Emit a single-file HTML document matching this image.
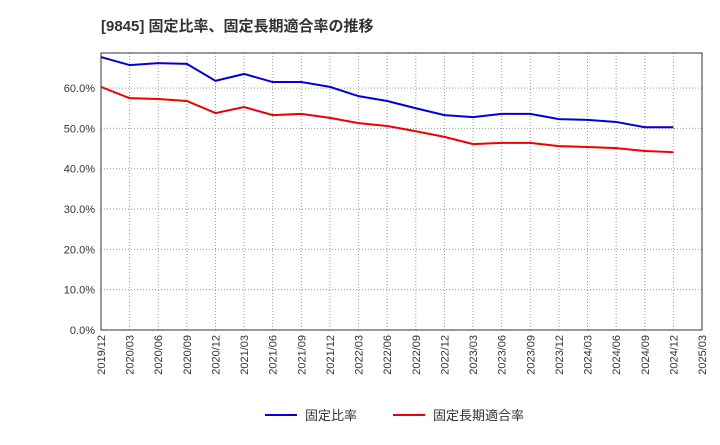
<!DOCTYPE html>
<html><head><meta charset="utf-8"><style>
body{margin:0;background:#fff;font-family:"Liberation Sans","Noto Sans CJK JP",sans-serif;}
</style></head><body>
<svg width="720" height="440" xmlns="http://www.w3.org/2000/svg">
<text x="101" y="31" font-size="15" font-weight="bold" fill="#333" font-family="Liberation Sans, Noto Sans CJK JP, sans-serif">[9845]  固定比率、固定長期適合率の推移</text>
<g id="grid"></g><g id="axes"></g><g id="series"></g>
<g>
<line x1="265" y1="415" x2="297" y2="415" stroke="#0000dd" stroke-width="2"/>
<text x="305" y="420" font-size="13" fill="#333" font-family="Liberation Sans, Noto Sans CJK JP, sans-serif">固定比率</text>
<line x1="393" y1="415" x2="425" y2="415" stroke="#ee0000" stroke-width="2"/>
<text x="433" y="420" font-size="13" fill="#333" font-family="Liberation Sans, Noto Sans CJK JP, sans-serif">固定長期適合率</text>
</g>
</svg>
<script>
const categories=["2019/12","2020/03","2020/06","2020/09","2020/12","2021/03","2021/06","2021/09","2021/12","2022/03","2022/06","2022/09","2022/12","2023/03","2023/06","2023/09","2023/12","2024/03","2024/06","2024/09","2024/12","2025/03"];
const fixedRatio=[67.7,65.7,66.2,66.0,61.8,63.5,61.5,61.5,60.3,58.0,56.8,55.0,53.3,52.8,53.6,53.6,52.3,52.1,51.6,50.3,50.3];
const longTermRatio=[60.3,57.5,57.3,56.8,53.8,55.3,53.3,53.6,52.6,51.3,50.6,49.3,47.9,46.1,46.4,46.4,45.6,45.4,45.1,44.4,44.1];
const yTicks=[0,10,20,30,40,50,60];
const NS="http://www.w3.org/2000/svg";
const L=101,R=702,T=53,B=330;
const x=i=>L+i*(R-L)/(categories.length-1);
const y=v=>B-v*(B-T)/68.7;
function mk(tag,attrs,parent){const e=document.createElementNS(NS,tag);for(const k in attrs)e.setAttribute(k,attrs[k]);parent.appendChild(e);return e;}
const grid=document.getElementById('grid'),axes=document.getElementById('axes'),series=document.getElementById('series');
mk('rect',{x:L,y:T,width:R-L,height:B-T,fill:'none',stroke:'#333','stroke-width':1},axes);
categories.forEach((c,i)=>{
  const g=mk('line',{x1:x(i),x2:x(i),y1:T,y2:B,stroke:'#999','stroke-dasharray':'1,2','stroke-width':1},grid);
  
  
  const t=mk('text',{transform:`translate(${x(i)+4},${B+5}) rotate(-90)`,'text-anchor':'end','font-size':11,fill:'#333'},axes);
  t.textContent=c;
  
  
});
yTicks.forEach(v=>{
  const g=mk('line',{x1:L,x2:R,y1:y(v),y2:y(v),stroke:'#999','stroke-dasharray':'1,2','stroke-width':1},grid);
  
  
  const t=mk('text',{x:L-6,y:y(v)+4,'text-anchor':'end','font-size':11,fill:'#333'},axes);
  t.textContent=v.toFixed(1)+'%';
  
  
});
function line(data,color,name){
  const p=mk('polyline',{points:data.map((v,i)=>x(i)+','+y(v)).join(' '),fill:'none',stroke:color,'stroke-width':2},series);
  
  
}
line(fixedRatio,'#0000dd','fixed-ratio-line');
line(longTermRatio,'#ee0000','long-term-fixed-ratio-line');
</script>
</body></html>
